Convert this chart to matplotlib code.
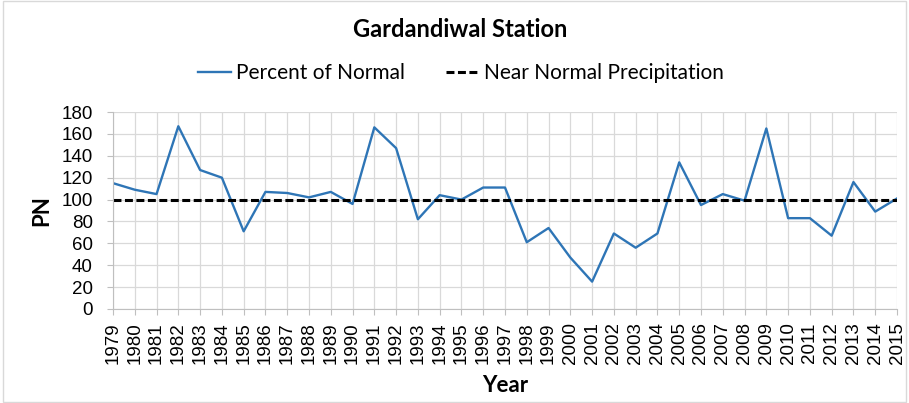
import numpy as np
import matplotlib.pyplot as plt
from matplotlib.patches import Rectangle

plt.rcParams['font.family'] = ['Lato', 'DejaVu Sans']

years = list(range(1979, 2016))
percent_normal = [115, 109, 105, 167, 127, 120, 71, 107, 106, 102, 107, 96,
                  166, 147, 82, 104, 100, 111, 111, 61, 74, 47, 25, 69,
                  56, 69, 134, 95, 105, 99, 165, 83, 83, 67, 116, 89, 101]
near_normal = [100] * len(years)

fig = plt.figure(figsize=(9.09, 4.03), dpi=100)
ax = fig.add_axes([0.1243, 0.2333, 0.8625, 0.4887])

ax.plot(years, percent_normal, color='#2E75B6', lw=1.7, label='Percent of Normal')
ax.plot(years, near_normal, color='black', lw=2.2, ls=(0, (2.6, 1.15)),
        label='Near Normal Precipitation')

ax.set_xlim(1979, 2015)
ax.set_ylim(0, 180)
ax.set_xticks(years)
ax.set_xticklabels([str(y) for y in years], rotation=90, fontsize=13.5,
                   family='Liberation Sans')
ax.set_yticks(np.arange(0, 181, 20))
for lab in ax.get_yticklabels():
    lab.set_family('Liberation Sans')
ax.tick_params(axis='y', labelsize=13.5, length=4.5, color='#BFBFBF', pad=10)
ax.tick_params(axis='x', length=4.5, color='#BFBFBF', pad=5)
ax.grid(True, color='#D9D9D9', lw=0.9)
ax.set_axisbelow(True)
for side in ['top', 'right']:
    ax.spines[side].set_visible(False)
for side in ['left', 'bottom']:
    ax.spines[side].set_color('#BFBFBF')

ax.set_ylabel('PN', fontsize=16, fontweight='bold', labelpad=7)
ax.set_xlabel('Year', fontsize=16, fontweight='bold', labelpad=8)

fig.text(0.506, 0.926, 'Gardandiwal Station', ha='center', va='center',
         fontsize=17, fontweight='bold')
fig.legend(loc='center', bbox_to_anchor=(0.507, 0.819), ncol=2, frameon=False,
           fontsize=15, handlelength=1.6, handletextpad=0.2, columnspacing=2.0)

fig.patches.append(Rectangle((0.003, 0.003), 0.994, 0.994, transform=fig.transFigure,
                             fill=False, edgecolor='#D9D9D9', lw=1))

fig.savefig('out.png', dpi=100)
